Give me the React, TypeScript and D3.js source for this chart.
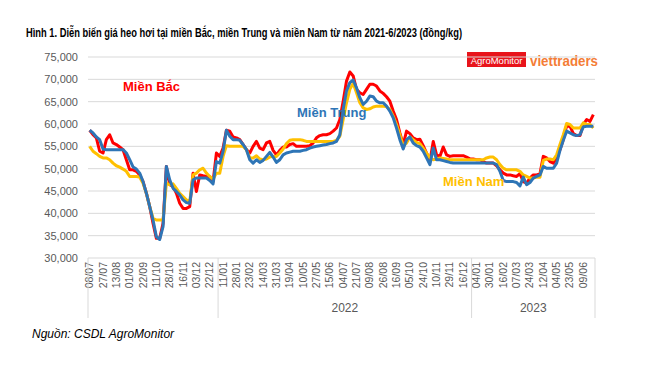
import React from "react";
import * as d3 from "d3";

// tick labels (one every 4 trading days)
const dateLabels = [
  "08/07", "27/07", "13/08", "01/09", "22/09", "11/10", "28/10", "16/11", "03/12", "22/12",
  "11/01", "28/01", "23/02", "14/03", "31/03", "19/04", "10/05", "27/05", "15/06", "04/07",
  "21/07", "09/08", "26/08", "16/09", "05/10", "24/10", "10/11", "29/11", "16/12",
  "04/01", "30/01", "16/02", "07/03", "24/03", "12/04", "04/05", "23/05", "09/06",
];
const labelStep = 4;

// year groups: [label, first category, category after last]
const yearGroups: [string, number, number][] = [
  ["", 0, 39],
  ["2022", 39, 115],
  ["2023", 115, 152],
];

// Miền Bắc (đồng/kg)
const bac = [
  58600, 57600, 56900, 53900, 53500, 56500, 57600, 55750, 55400, 54850,
  54250, 52000, 49750, 49750, 49400, 48600, 47100, 44500, 41500, 37750,
  34400, 34400, 37750, 50500, 46400, 46000, 44500, 42250, 41100, 41100,
  41500, 49000, 44900, 48600, 48400, 48250, 48250, 47100, 53500, 52750,
  54600, 58600, 58400, 57100, 56900, 56500, 55400, 54250, 53500, 55000,
  56100, 54600, 54250, 55750, 56100, 54100, 53100, 54100, 54850, 54850,
  55400, 55600, 55000, 55000, 55000, 55000, 55150, 55750, 56900, 57400,
  57600, 57600, 57850, 58400, 59100, 61000, 65100, 69600, 71650, 70750,
  67750, 67000, 66600, 67750, 68900, 68900, 68500, 67400, 66850, 66100,
  65100, 62900, 61000, 58000, 55400, 58400, 57850, 56900, 56500, 56600,
  55150, 53500, 51600, 56100, 53100, 52750, 54850, 53100, 52750, 52900,
  52900, 52900, 52900, 52600, 52200, 52150, 52000, 52000, 51600, 51250,
  51250, 51250, 50650, 49750, 49000, 48600, 48600, 48400, 48250, 48900,
  47100, 46750, 47900, 48600, 48600, 48850, 52750, 52400, 51600, 51250,
  52400, 54250, 56500, 59650, 59500, 57850, 57400, 57400, 59900, 61000,
  60600, 62100,
];

// Miền Trung
const trung = [
  58600, 58000, 57100, 56500, 54400, 54250, 54250, 54250, 54250, 54250,
  54250, 53500, 52000, 50400, 49900, 49000, 47100, 44500, 41500, 38500,
  34750, 34150, 37000, 50500, 47500, 45600, 44900, 44100, 43000, 42400,
  42250, 47500, 47900, 47900, 47900, 47900, 47350, 46600, 51600, 51250,
  53900, 58600, 57250, 56500, 56500, 56350, 55400, 54250, 52000, 51250,
  52000, 51400, 51850, 52750, 53650, 52600, 51400, 52000, 53100, 53500,
  53700, 53900, 53900, 53900, 54100, 54250, 54600, 54850, 55000, 55150,
  55300, 55400, 55600, 55750, 56100, 57600, 63250, 67400, 69250, 69850,
  68100, 65900, 64400, 65100, 66250, 66100, 65100, 64750, 64750, 64000,
  62900, 61400, 59100, 56500, 54400, 56500, 57100, 55750, 55150, 54850,
  53900, 52400, 50900, 54600, 52000, 52000, 51800, 51600, 51400, 51250,
  51250, 51250, 51250, 51250, 51250, 51250, 51250, 51250, 51250, 51250,
  51250, 51250, 50900, 49400, 47350, 47100, 47100, 47100, 46900, 46150,
  48100, 46400, 46900, 47900, 48250, 48600, 50500, 50100, 50100, 50100,
  51250, 54100, 56350, 58400, 58000, 57600, 57400, 57600, 59350, 59500,
  59500, 59500,
];

// Miền Nam
const nam = [
  55000, 53900, 53350, 52750, 52400, 52400, 52000, 51250, 50650, 50350,
  49900, 49400, 48250, 48250, 48250, 48100, 46750, 44500, 41500, 38900,
  38500, 38500, 38500, 46750, 46400, 46600, 45600, 44500, 43750, 43000,
  42600, 48600, 49000, 49750, 50100, 49000, 48250, 47650, 49000, 49000,
  52750, 55150, 55000, 55000, 55000, 55000, 55000, 54250, 52400, 52400,
  52900, 52150, 52000, 52150, 52600, 52750, 52750, 53500, 54400, 55600,
  56350, 56500, 56500, 56500, 56350, 56100, 56100, 56100, 56100, 56100,
  56100, 56100, 56100, 56100, 56350, 57250, 61000, 64750, 67750, 69100,
  67000, 64750, 63600, 63250, 63400, 63800, 64000, 64000, 64000, 63850,
  63250, 61750, 59900, 57600, 55150, 55750, 57100, 56500, 55900, 55600,
  54600, 53500, 52400, 52000, 52150, 52400, 52300, 52150, 52000, 52000,
  52000, 52000, 52000, 52000, 52000, 52000, 52000, 52000, 52000, 52400,
  52600, 52600, 52000, 50900, 50100, 49750, 49750, 49750, 49750, 49400,
  48600, 48250, 47900, 47900, 48100, 48100, 51850, 52150, 52150, 52000,
  53100, 55400, 57600, 60100, 59900, 59100, 59100, 59100, 60250, 59900,
  59900, 59100,
];

const yTicks = d3.range(30000, 75001, 5000);
const nCats = bac.length;

const W = 650;
const H = 366;
const left = 88;
const right = 595;
const top = 57;
const bottom = 258;
const font = "'Liberation Sans', Arial, sans-serif";
const axisGrey = "#595959";
const gridGrey = "#d9d9d9";

const App = () => {
  const x = d3.scaleLinear().domain([0, nCats]).range([left, right]);
  const y = d3.scaleLinear().domain([30000, 75000]).range([bottom, top]);
  const line = d3
    .line<number>()
    .x((_, i) => x(i + 0.5))
    .y((d) => y(d));

  const series = [
    { values: bac, color: "#ff0000" },
    { values: nam, color: "#ffc000" },
    { values: trung, color: "#2e75b6" },
  ];

  return (
    <svg
      width={W}
      height={H}
      style={{ position: "absolute", left: 0, top: 0, background: "#fff" }}
      fontFamily={font}
    >
      <text x={26} y={37} fontSize={12} fontWeight="bold" fill="#000" textLength={436} lengthAdjust="spacingAndGlyphs">
        Hình 1. Diễn biến giá heo hơi tại miền Bắc, miền Trung và miền Nam từ năm 2021-6/2023 (đồng/kg)
      </text>

      {/* logo */}
      <rect x={467} y={52} width={59} height={15} fill="#e8141b" />
      <text x={496.5} y={63.5} fontSize={9.5} fill="#fff" textAnchor="middle">
        AgroMonitor
      </text>
      <text x={530} y={66} fontSize={15} fontWeight="bold" fill="#f47d36" textLength={68} lengthAdjust="spacingAndGlyphs">
        viettraders
      </text>

      {/* grid + y axis */}
      {yTicks.map((t) => (
        <g key={t}>
          <line x1={left} x2={right} y1={y(t)} y2={y(t)} stroke={gridGrey} strokeWidth={1} />
          <text x={78} y={y(t) + 4} fontSize={11} fill={axisGrey} textAnchor="end">
            {d3.format(",")(t)}
          </text>
        </g>
      ))}

      {/* x axis labels */}
      {dateLabels.map((lab, k) => {
        const xi = x(k * labelStep + 0.5);
        return (
          <text
            key={lab + k}
            transform={`translate(${xi + 3.5},${bottom + 4}) rotate(-90)`}
            fontSize={10.5}
            fill={axisGrey}
            textAnchor="end"
          >
            {lab}
          </text>
        );
      })}

      {/* year group separators */}
      {[0, ...yearGroups.map((g) => g[2])].map((c) => (
        <line key={c} x1={x(c)} x2={x(c)} y1={bottom} y2={318} stroke={gridGrey} strokeWidth={1} />
      ))}
      {yearGroups.map(([yr, s, e]) => (
        <text key={s} x={(x(s) + x(e)) / 2} y={312} fontSize={12} fill={axisGrey} textAnchor="middle">
          {yr}
        </text>
      ))}

      {/* series */}
      {series.map((s) => (
        <path
          key={s.color}
          d={line(s.values) || ""}
          fill="none"
          stroke={s.color}
          strokeWidth={3}
          strokeLinejoin="round"
        />
      ))}

      <text x={123} y={91} fontSize={13} fontWeight="bold" fill="#ff0000">
        Miền Bắc
      </text>
      <text x={297} y={117} fontSize={13} fontWeight="bold" fill="#2e75b6">
        Miền Trung
      </text>
      <text x={443} y={186} fontSize={13} fontWeight="bold" fill="#ffc000">
        Miền Nam
      </text>

      <text x={32} y={338} fontSize={12} fontStyle="italic" fill="#000">
        Nguồn: CSDL AgroMonitor
      </text>
    </svg>
  );
};

export default App;
